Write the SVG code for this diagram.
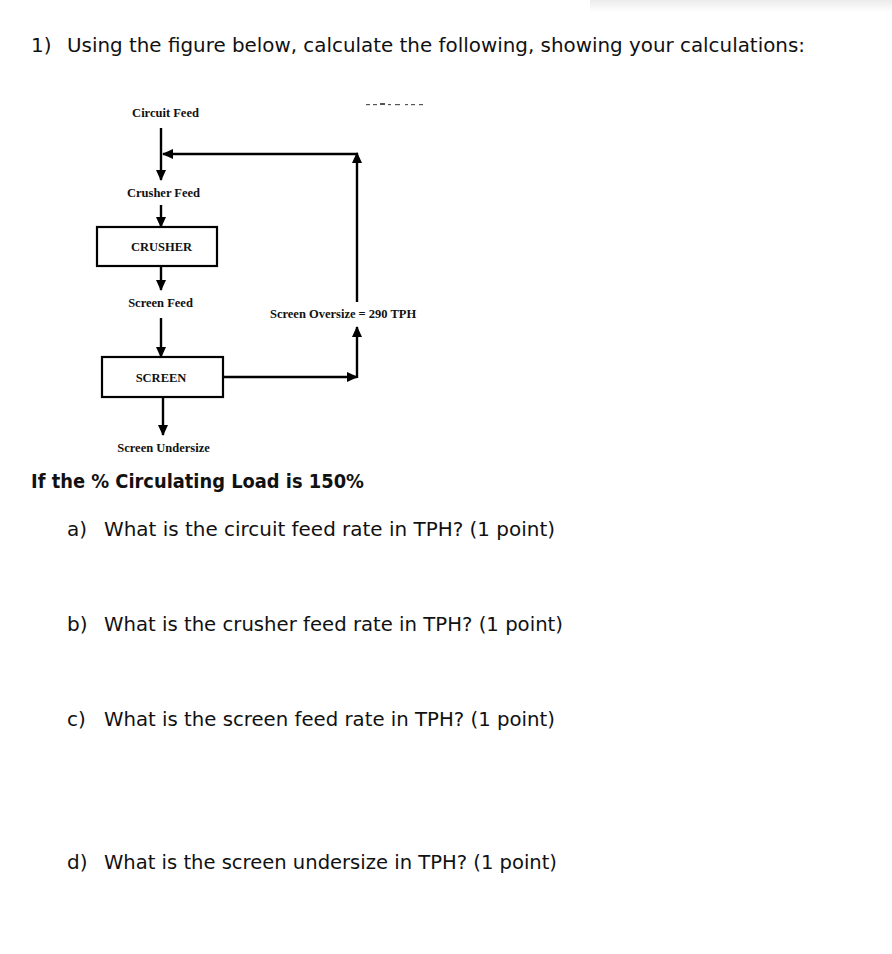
<svg xmlns="http://www.w3.org/2000/svg" width="892" height="954" viewBox="0 0 892 954">
  <defs>
    <style>
      .q { font-family: "DejaVu Sans", "Open Sans", sans-serif; font-size: 20px; fill: #111; }
      .qb { font-family: "DejaVu Sans", "Open Sans", sans-serif; font-size: 20px; font-weight: bold; fill: #111; }
      .lbl { font-family: "Liberation Serif", "Times New Roman", serif; font-size: 12.5px; font-weight: bold; fill: #111; }
      .box { fill: #fff; stroke: #000; stroke-width: 2.2; }
      .con { fill: none; stroke: #000; stroke-width: 2.4; }
    </style>
    <marker id="arr" markerUnits="userSpaceOnUse" markerWidth="11" markerHeight="10" refX="10" refY="5" orient="auto">
      <path d="M0,0 L11,5 L0,10 Z" fill="#000"/>
    </marker>
    <linearGradient id="shade" x1="0" y1="0" x2="0" y2="1">
      <stop offset="0" stop-color="#e6e6e6"/>
      <stop offset="1" stop-color="#ffffff"/>
    </linearGradient>
  </defs>

  <rect width="892" height="954" fill="#fff"/>
  <rect x="590" y="0" width="302" height="12" fill="url(#shade)" opacity="0.8"/>

  <g id="question">
    <text class="q" x="31" y="52">1)</text>
    <text class="q" x="67" y="52" textLength="738" lengthAdjust="spacingAndGlyphs">Using the figure below, calculate the following, showing your calculations:</text>
  </g>

  <g id="fragment" fill="#555">
    <rect x="366" y="104" width="4" height="1.2"/>
    <rect x="373" y="104" width="4" height="1.2"/>
    <rect x="380" y="103" width="5" height="2"/>
    <rect x="388" y="104" width="3" height="1.2"/>
    <rect x="395" y="104" width="5" height="1.2"/>
    <rect x="405" y="104" width="3" height="1.2"/>
    <rect x="411" y="104" width="4" height="1.2"/>
    <rect x="419" y="104" width="4" height="1.2"/>
  </g>

  <g id="connectors">
    <line class="con" x1="161" y1="128" x2="161" y2="180" marker-end="url(#arr)"/>
    <line class="con" x1="357" y1="302" x2="357" y2="153" marker-end="url(#arr)"/>
    <line class="con" x1="358" y1="154" x2="163" y2="154" marker-end="url(#arr)"/>
    <line class="con" x1="161" y1="205" x2="161" y2="227" marker-end="url(#arr)"/>
    <line class="con" x1="161" y1="267" x2="161" y2="290" marker-end="url(#arr)"/>
    <line class="con" x1="161" y1="318" x2="161" y2="357" marker-end="url(#arr)"/>
    <line class="con" x1="223" y1="377" x2="357" y2="377" marker-end="url(#arr)"/>
    <line class="con" x1="357" y1="378" x2="357" y2="327" marker-end="url(#arr)"/>
    <line class="con" x1="163" y1="397" x2="163" y2="435" marker-end="url(#arr)"/>
  </g>

  <g id="circuit-feed">
    <text class="lbl" x="165.5" y="117" text-anchor="middle">Circuit Feed</text>
  </g>
  <g id="crusher-feed">
    <text class="lbl" x="163.5" y="197" text-anchor="middle">Crusher Feed</text>
  </g>
  <g id="crusher">
    <rect class="box" x="97" y="227" width="120" height="39"/>
    <text class="lbl" x="161.5" y="251" text-anchor="middle">CRUSHER</text>
  </g>
  <g id="screen-feed">
    <text class="lbl" x="160.5" y="307" text-anchor="middle">Screen Feed</text>
  </g>
  <g id="screen">
    <rect class="box" x="102" y="357" width="121" height="40"/>
    <text class="lbl" x="161" y="381.5" text-anchor="middle">SCREEN</text>
  </g>
  <g id="screen-oversize">
    <text class="lbl" x="270" y="318">Screen Oversize = 290 TPH</text>
  </g>
  <g id="screen-undersize">
    <text class="lbl" x="163.5" y="452" text-anchor="middle">Screen Undersize</text>
  </g>

  <g id="questions">
    <text class="qb" x="31" y="488" textLength="333" lengthAdjust="spacingAndGlyphs">If the % Circulating Load is 150%</text>
    <text class="q" x="67" y="536">a)</text>
    <text class="q" x="104" y="536" textLength="451" lengthAdjust="spacingAndGlyphs">What is the circuit feed rate in TPH? (1 point)</text>
    <text class="q" x="67" y="631">b)</text>
    <text class="q" x="104" y="631" textLength="459" lengthAdjust="spacingAndGlyphs">What is the crusher feed rate in TPH? (1 point)</text>
    <text class="q" x="67" y="726">c)</text>
    <text class="q" x="104" y="726" textLength="451" lengthAdjust="spacingAndGlyphs">What is the screen feed rate in TPH? (1 point)</text>
    <text class="q" x="67" y="869">d)</text>
    <text class="q" x="104" y="869" textLength="453" lengthAdjust="spacingAndGlyphs">What is the screen undersize in TPH? (1 point)</text>
  </g>
</svg>
